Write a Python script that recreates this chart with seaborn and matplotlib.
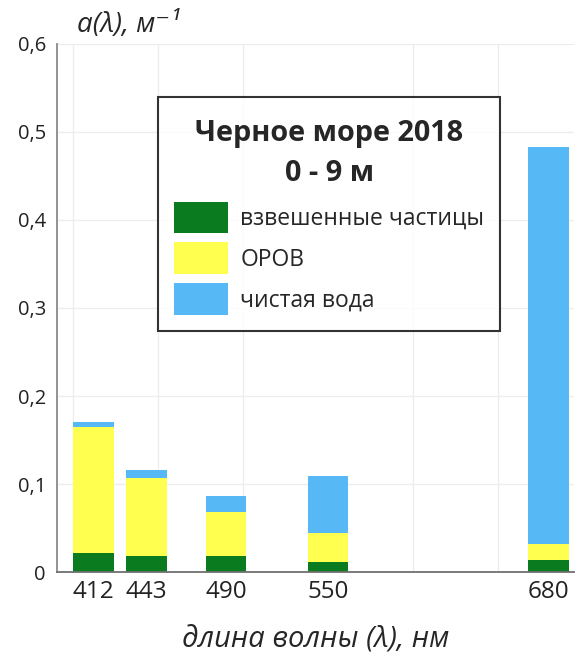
import matplotlib
matplotlib.use("Agg")
import matplotlib.pyplot as plt
import matplotlib.ticker as mticker
from matplotlib.patches import Patch
from matplotlib.offsetbox import DrawingArea
import seaborn as sns
import numpy as np

# wavelengths, nm
wavelengths = [412, 443, 490, 550, 680]
# absorption components, 1/m
particles = [0.022, 0.018, 0.018, 0.011, 0.014]   # взвешенные частицы
cdom = [0.143, 0.089, 0.050, 0.033, 0.018]        # ОРОВ
water = [0.005, 0.009, 0.018, 0.065, 0.451]       # чистая вода

labels = ["взвешенные частицы", "ОРОВ", "чистая вода"]
colors = ["#0a7b1f", "#ffff4f", "#56b8f4"]

sns.set_style("white")
plt.rcParams["font.family"] = ["Open Sans", "DejaVu Sans"]

fig = plt.figure(figsize=(5.78, 6.56), dpi=100)
ax = fig.add_axes([0.0986, 0.128, 0.895, 0.805])

low = np.array(particles)
mid = low + np.array(cdom)
top = mid + np.array(water)

# layered bars: tallest first, each next one covers the lower part
for heights, col in [(top, colors[2]), (mid, colors[1]), (low, colors[0])]:
    sns.barplot(x=wavelengths, y=heights, native_scale=True, orient="x",
                width=24 / 31, color=col, saturation=1, errorbar=None,
                linewidth=0, ax=ax)

ax.set_xlim(390.5, 695)
ax.set_ylim(0, 0.6)

ax.set_xticks(wavelengths)
ax.set_xticklabels([str(w) for w in wavelengths], fontsize=17.5)
ax.xaxis.set_minor_locator(mticker.FixedLocator(range(400, 651, 50)))
ax.tick_params(axis="x", which="major", length=0, pad=6, colors="#222222")
ax.tick_params(axis="x", which="minor", length=4, direction="out", color="#888888")

ax.yaxis.set_major_locator(mticker.MultipleLocator(0.1))
ax.yaxis.set_minor_locator(mticker.MultipleLocator(0.05))
ax.yaxis.set_major_formatter(mticker.FuncFormatter(
    lambda v, p: "0" if abs(v) < 1e-9 else f"{v:.1f}".replace(".", ",")))
ax.tick_params(axis="y", which="major", length=0, pad=8, labelsize=14.5, colors="#222222")
ax.tick_params(axis="y", which="minor", length=6, direction="in", color="#888888")

ax.grid(False)
ax.xaxis.grid(True, which="minor", color="#ececec", linewidth=0.9)
ax.yaxis.grid(True, which="major", color="#ececec", linewidth=0.9)
ax.set_axisbelow(True)

for s in ["top", "right"]:
    ax.spines[s].set_visible(False)
ax.spines["left"].set_color("#8a8a8a")
ax.spines["bottom"].set_color("#707070")
ax.spines["left"].set_linewidth(1.3)
ax.spines["bottom"].set_linewidth(1.3)

ax.set_xlabel("длина волны (λ), нм", fontsize=21, style="italic", labelpad=15)
ax.set_ylabel("")
fig.text(0.133, 0.962, "a(λ), м⁻¹", fontsize=20, style="italic",
         ha="left", va="center")

handles = [Patch(facecolor=c, edgecolor="none") for c in colors]
leg = ax.legend(handles, labels, title="Черное море 2018\n0 - 9 м",
                loc="upper left", bbox_to_anchor=(0.195, 0.8996),
                borderaxespad=0, frameon=True, fancybox=False, edgecolor="black",
                fontsize=16.5, handlelength=2.35, handleheight=1.75,
                labelspacing=0.4, handletextpad=0.55, borderpad=0.7,
                title_fontproperties={"weight": "bold", "size": 20.8})
leg.get_frame().set_linewidth(1.5)
leg.get_title().set_linespacing(1.5)
leg.get_title().set_multialignment("center")

# a bit more air above and below the two title lines
box = leg._legend_box
box.sep = 3
box._children = [DrawingArea(1, 1.5), leg._legend_title_box,
                 DrawingArea(1, 3.6), leg._legend_handle_box]

fig.savefig("out.png", dpi=100)
